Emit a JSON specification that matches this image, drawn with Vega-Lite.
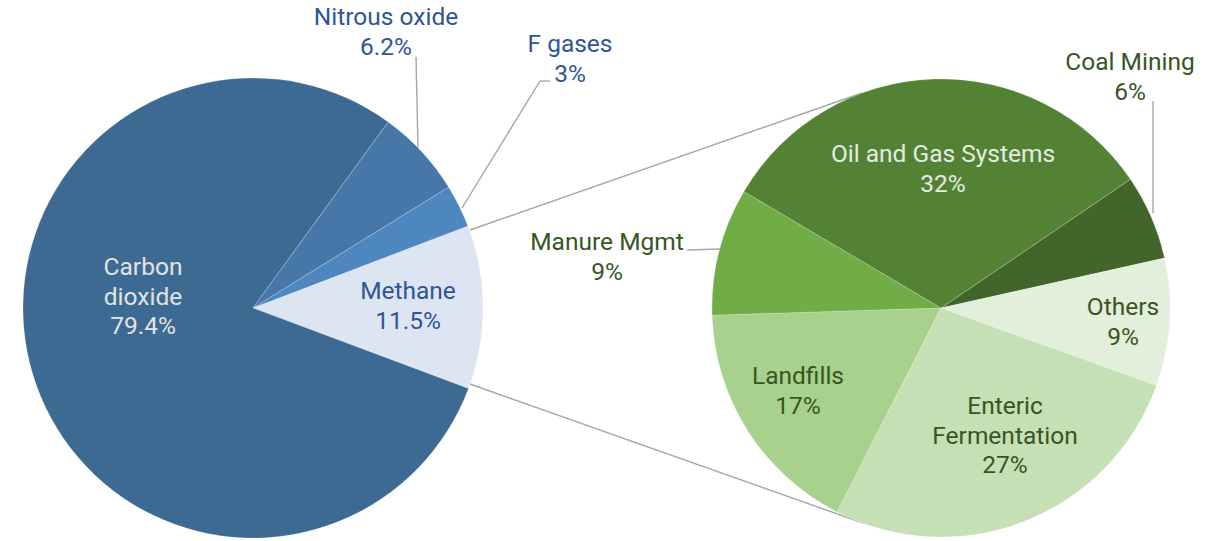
{
  "$schema": "https://vega.github.io/schema/vega-lite/v6.json",
  "width": 1209,
  "height": 541,
  "autosize": {"type": "none"},
  "padding": 0,
  "background": "white",
  "config": {
    "view": {"stroke": null},
    "text": {"font": "Roboto", "fontSize": 24.5, "lineHeight": 29.5, "baseline": "middle", "align": "center", "lineBreak": "\n"},
    "rule": {"color": "#a6a6a6", "strokeWidth": 1.4}
  },
  "datasets": {
    "gases": [
      {"gas": "Methane", "share": 11.5, "idx": 1},
      {"gas": "Carbon dioxide", "share": 79.4, "idx": 2},
      {"gas": "Nitrous oxide", "share": 6.2, "idx": 3},
      {"gas": "F gases", "share": 3, "idx": 4}
    ],
    "methane": [
      {"source": "Coal Mining", "share": 6, "idx": 1},
      {"source": "Others", "share": 9, "idx": 2},
      {"source": "Enteric Fermentation", "share": 27, "idx": 3},
      {"source": "Landfills", "share": 17, "idx": 4},
      {"source": "Manure Mgmt", "share": 9, "idx": 5},
      {"source": "Oil and Gas Systems", "share": 32, "idx": 6}
    ]
  },
  "layer": [
    {
      "data": {"name": "gases"},
      "transform": [{"filter": "datum.gas == 'Methane'"}],
      "mark": {"type": "rule"},
      "encoding": {
        "x": {"datum": 470, "type": "quantitative", "scale": {"domain": [0, 1209], "nice": false, "zero": false}, "axis": null},
        "y": {"datum": 230, "type": "quantitative", "scale": {"domain": [0, 541], "nice": false, "zero": false, "reverse": true}, "axis": null},
        "x2": {"datum": 862},
        "y2": {"datum": 93}
      }
    },
    {
      "data": {"name": "gases"},
      "transform": [{"filter": "datum.gas == 'Methane'"}],
      "mark": {"type": "rule"},
      "encoding": {
        "x": {"datum": 470, "type": "quantitative"},
        "y": {"datum": 384, "type": "quantitative"},
        "x2": {"datum": 863},
        "y2": {"datum": 523}
      }
    },
    {
      "data": {"name": "gases"},
      "mark": {"type": "arc", "outerRadius": 230, "stroke": "#ffffff", "strokeWidth": 0.7, "strokeOpacity": 0.3},
      "encoding": {
        "x": {"datum": 253, "type": "quantitative"},
        "y": {"datum": 308, "type": "quantitative"},
        "theta": {"field": "share", "type": "quantitative", "stack": true, "scale": {"range": [1.206, 7.489]}},
        "order": {"field": "idx", "type": "quantitative"},
        "color": {"field": "gas", "type": "nominal", "legend": null,
          "scale": {"domain": ["Methane", "Carbon dioxide", "Nitrous oxide", "F gases"], "range": ["#dde5f2", "#3d6a92", "#4677a8", "#4e86bf"]}}
      }
    },
    {
      "data": {"name": "methane"},
      "mark": {"type": "arc", "outerRadius": 229, "stroke": "#ffffff", "strokeWidth": 0.7, "strokeOpacity": 0.3},
      "encoding": {
        "x": {"datum": 941, "type": "quantitative"},
        "y": {"datum": 308, "type": "quantitative"},
        "theta": {"field": "share", "type": "quantitative", "stack": true, "scale": {"range": [0.974, 7.257]}},
        "order": {"field": "idx", "type": "quantitative"},
        "color": {"field": "source", "type": "nominal", "legend": null,
          "scale": {"domain": ["Coal Mining", "Others", "Enteric Fermentation", "Landfills", "Manure Mgmt", "Oil and Gas Systems"], "range": ["#41652a", "#e2efda", "#c5e0b4", "#a9d18e", "#70ad47", "#548235"]}}
      }
    },
    {
      "data": {"name": "gases"},
      "transform": [{"filter": "datum.gas == 'Nitrous oxide'"}],
      "mark": {"type": "rule"},
      "encoding": {
        "x": {"datum": 418, "type": "quantitative"},
        "y": {"datum": 148, "type": "quantitative"},
        "x2": {"datum": 416},
        "y2": {"datum": 57}
      }
    },
    {
      "data": {"name": "gases"},
      "transform": [{"filter": "datum.gas == 'F gases'"}],
      "mark": {"type": "rule"},
      "encoding": {
        "x": {"datum": 462, "type": "quantitative"},
        "y": {"datum": 208, "type": "quantitative"},
        "x2": {"datum": 540},
        "y2": {"datum": 81}
      }
    },
    {
      "data": {"name": "gases"},
      "transform": [{"filter": "datum.gas == 'F gases'"}],
      "mark": {"type": "rule"},
      "encoding": {
        "x": {"datum": 540, "type": "quantitative"},
        "y": {"datum": 81, "type": "quantitative"},
        "x2": {"datum": 550},
        "y2": {"datum": 81}
      }
    },
    {
      "data": {"name": "methane"},
      "transform": [{"filter": "datum.source == 'Coal Mining'"}],
      "mark": {"type": "rule"},
      "encoding": {
        "x": {"datum": 1153, "type": "quantitative"},
        "y": {"datum": 213, "type": "quantitative"},
        "x2": {"datum": 1153},
        "y2": {"datum": 101}
      }
    },
    {
      "data": {"name": "methane"},
      "transform": [{"filter": "datum.source == 'Manure Mgmt'"}],
      "mark": {"type": "rule"},
      "encoding": {
        "x": {"datum": 687, "type": "quantitative"},
        "y": {"datum": 250, "type": "quantitative"},
        "x2": {"datum": 720},
        "y2": {"datum": 249}
      }
    },
    {
      "data": {"name": "gases"},
      "transform": [{"filter": "datum.gas == 'Carbon dioxide'"}, {"calculate": "replace(datum.gas, ' ', '\\n') + '\\n' + datum.share + '%'", "as": "label"}],
      "mark": {"type": "text", "color": "#e3e3e3"},
      "encoding": {
        "x": {"datum": 143, "type": "quantitative"},
        "y": {"datum": 268, "type": "quantitative"},
        "text": {"field": "label", "type": "nominal"}
      }
    },
    {
      "data": {"name": "gases"},
      "transform": [{"filter": "datum.gas == 'Methane'"}, {"calculate": "datum.gas + '\\n' + datum.share + '%'", "as": "label"}],
      "mark": {"type": "text", "color": "#2f5597"},
      "encoding": {
        "x": {"datum": 408, "type": "quantitative"},
        "y": {"datum": 292, "type": "quantitative"},
        "text": {"field": "label", "type": "nominal"}
      }
    },
    {
      "data": {"name": "gases"},
      "transform": [{"filter": "datum.gas == 'Nitrous oxide'"}, {"calculate": "datum.gas + '\\n' + datum.share + '%'", "as": "label"}],
      "mark": {"type": "text", "color": "#2f5597"},
      "encoding": {
        "x": {"datum": 386, "type": "quantitative"},
        "y": {"datum": 18, "type": "quantitative"},
        "text": {"field": "label", "type": "nominal"}
      }
    },
    {
      "data": {"name": "gases"},
      "transform": [{"filter": "datum.gas == 'F gases'"}, {"calculate": "datum.gas + '\\n' + datum.share + '%'", "as": "label"}],
      "mark": {"type": "text", "color": "#2f5597"},
      "encoding": {
        "x": {"datum": 570, "type": "quantitative"},
        "y": {"datum": 45, "type": "quantitative"},
        "text": {"field": "label", "type": "nominal"}
      }
    },
    {
      "data": {"name": "methane"},
      "transform": [{"filter": "datum.source == 'Coal Mining'"}, {"calculate": "datum.source + '\\n' + datum.share + '%'", "as": "label"}],
      "mark": {"type": "text", "color": "#375623"},
      "encoding": {
        "x": {"datum": 1130, "type": "quantitative"},
        "y": {"datum": 63, "type": "quantitative"},
        "text": {"field": "label", "type": "nominal"}
      }
    },
    {
      "data": {"name": "methane"},
      "transform": [{"filter": "datum.source == 'Oil and Gas Systems'"}, {"calculate": "datum.source + '\\n' + datum.share + '%'", "as": "label"}],
      "mark": {"type": "text", "color": "#e6ebe2"},
      "encoding": {
        "x": {"datum": 943, "type": "quantitative"},
        "y": {"datum": 155, "type": "quantitative"},
        "text": {"field": "label", "type": "nominal"}
      }
    },
    {
      "data": {"name": "methane"},
      "transform": [{"filter": "datum.source == 'Others'"}, {"calculate": "datum.source + '\\n' + datum.share + '%'", "as": "label"}],
      "mark": {"type": "text", "color": "#375623"},
      "encoding": {
        "x": {"datum": 1123, "type": "quantitative"},
        "y": {"datum": 308, "type": "quantitative"},
        "text": {"field": "label", "type": "nominal"}
      }
    },
    {
      "data": {"name": "methane"},
      "transform": [{"filter": "datum.source == 'Landfills'"}, {"calculate": "datum.source + '\\n' + datum.share + '%'", "as": "label"}],
      "mark": {"type": "text", "color": "#375623"},
      "encoding": {
        "x": {"datum": 798, "type": "quantitative"},
        "y": {"datum": 377, "type": "quantitative"},
        "text": {"field": "label", "type": "nominal"}
      }
    },
    {
      "data": {"name": "methane"},
      "transform": [{"filter": "datum.source == 'Enteric Fermentation'"}, {"calculate": "replace(datum.source, ' ', '\\n') + '\\n' + datum.share + '%'", "as": "label"}],
      "mark": {"type": "text", "color": "#375623"},
      "encoding": {
        "x": {"datum": 1005, "type": "quantitative"},
        "y": {"datum": 407, "type": "quantitative"},
        "text": {"field": "label", "type": "nominal"}
      }
    },
    {
      "data": {"name": "methane"},
      "transform": [{"filter": "datum.source == 'Manure Mgmt'"}, {"calculate": "datum.source + '\\n' + datum.share + '%'", "as": "label"}],
      "mark": {"type": "text", "color": "#375623"},
      "encoding": {
        "x": {"datum": 607, "type": "quantitative"},
        "y": {"datum": 243, "type": "quantitative"},
        "text": {"field": "label", "type": "nominal"}
      }
    }
  ],
  "resolve": {"scale": {"theta": "independent", "color": "independent"}}
}
